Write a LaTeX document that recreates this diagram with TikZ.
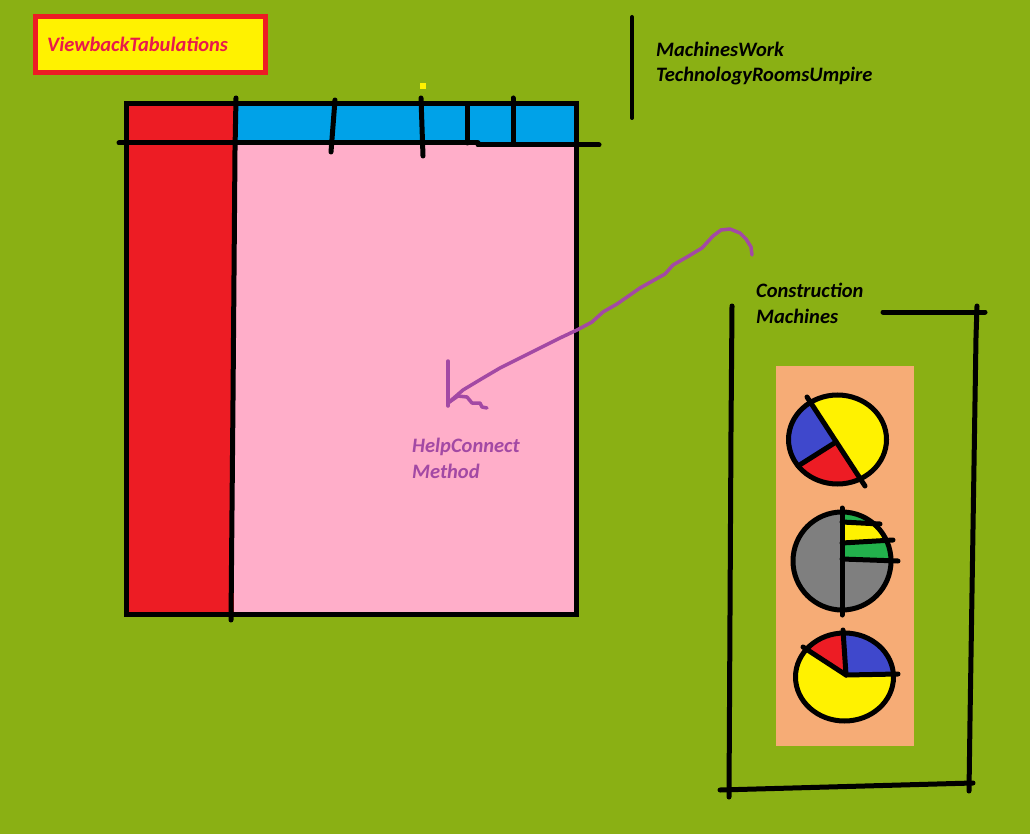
\documentclass[tikz,border=0pt]{standalone}
\usepackage{fontspec}
\setmainfont{Carlito}
\definecolor{bg}{RGB}{138,176,20}
\definecolor{pred}{RGB}{237,28,36}
\definecolor{pyellow}{RGB}{255,242,0}
\definecolor{pblue}{RGB}{0,162,232}
\definecolor{ppink}{RGB}{255,174,201}
\definecolor{pindigo}{RGB}{63,72,204}
\definecolor{pgreen}{RGB}{34,177,76}
\definecolor{pgray}{RGB}{127,127,127}
\definecolor{porange}{RGB}{246,172,118}
\definecolor{ppurple}{RGB}{163,73,164}
\definecolor{titletxt}{RGB}{232,26,75}
\begin{document}
\begin{tikzpicture}[x=1pt,y=-1pt]
\tikzset{
  blk/.style={line width=5pt, black, line cap=round, line join=round},
  thinblk/.style={line width=4pt, black, line cap=round},
  lbl/.style={font=\fontsize{20.5}{24}\selectfont\bfseries\itshape, inner sep=0pt, anchor=base west},
  pline/.style={line width=3.5pt, ppurple, line cap=round, line join=round},
}
\fill[bg] (0,0) rectangle (1030,834);
\useasboundingbox (0,0) rectangle (1030,834);

% title box
\node[draw=pred, line width=5pt, fill=pyellow, inner sep=0pt, outer sep=0pt, anchor=north west,
      minimum width=230pt, minimum height=56pt] (title) at (35.5,16.5) {};
\node[lbl, text=titletxt] (titletext) at (47,52) {ViewbackTabulations};

% main table
\fill[pred] (126,104) rectangle (234,614);
\fill[pblue] (234,104) rectangle (576,143);
\fill[ppink] (234,143) rectangle (576,614);
\draw[line width=5pt, line join=miter] (126,104) rectangle (576,614);
\node[inner sep=0pt, minimum size=0pt] (table) at (351,359) {};
\draw[blk] (236,98) -- (235,150) -- (233,400) -- (231,620);
\draw[blk] (119,143) -- (478,143);
\draw[blk] (478,145) -- (599,145);
\draw[blk] (335,100) -- (331,152);
\draw[blk] (421,98) -- (423,156);
\draw[blk] (467,106) -- (467,143);
\draw[blk] (513,98) -- (513,143);
\fill[pyellow] (420,83) rectangle (426,89);

% MachinesWork
\draw[thinblk] (632,17) -- (632,118);
\node[lbl] (mw1) at (656,57) {MachinesWork};
\node[lbl] (mw2) at (656,82) {TechnologyRoomsUmpire};

% Construction machines frame
\node[lbl] (cm1) at (756,298) {Construction};
\node[lbl] (cm2) at (756,323) {Machines};
\draw[blk] (732,306) -- (731,430) -- (729,797);
\draw[blk] (883,312) -- (985,312);
\draw[blk] (977,306) -- (976,337) -- (970,720) -- (969,791);
\draw[blk] (720,790) -- (973,783);
\fill[porange] (776,366) rectangle (914,746);

% pie 1
\begin{scope}
  \clip (837.5,439.5) ellipse [x radius=49, y radius=44.5];
  \fill[pyellow] (780,385) rectangle (895,495);
  \fill[pindigo] (836,442) -- (749,307) -- (700,307) -- (700,520) -- (722,514) -- cycle;
  \fill[pred] (836,442) -- (722,514) -- (722,620) -- (923,620) -- (923,574) -- cycle;
\end{scope}
\draw[line width=5pt] (837.5,439.5) ellipse [x radius=49, y radius=44.5];
\draw[blk] (807,397) -- (865,486);
\draw[blk] (836,442) -- (798,466);

% pie 2
\begin{scope}
  \clip (842,561) circle [radius=49];
  \fill[pgray] (790,505) rectangle (895,615);
  \fill[pgreen] (842,505) -- (900,505) -- (900,525) -- (842,522) -- cycle;
  \fill[pyellow] (842,522) -- (900,525) -- (900,539) -- (842,543) -- cycle;
  \fill[pgreen] (842,543) -- (900,539) -- (900,561) -- (842,559) -- cycle;
\end{scope}
\draw[line width=5pt] (842,561) circle [radius=49];
\draw[blk] (842,508) -- (842,615);
\draw[blk] (842,522) -- (880,524);
\draw[blk] (842,543) -- (893,540);
\draw[blk] (842,559) -- (898,561);

% pie 3
\begin{scope}
  \clip (844.5,677) ellipse [x radius=49, y radius=44];
  \fill[pyellow] (790,625) rectangle (900,725);
  \fill[pindigo] (846,675) -- (842.3,600) -- (910,600) -- (910,674) -- cycle;
  \fill[pred] (846,675) -- (760,619) -- (760,600) -- (842.3,600) -- cycle;
\end{scope}
\draw[line width=5pt] (844.5,677) ellipse [x radius=49, y radius=44];
\draw[blk] (846,675) -- (843,630);
\draw[blk] (846,675) -- (898,674);
\draw[blk] (846,675) -- (803,647);

% purple connector
\node[lbl, text=ppurple] (hc1) at (412,452) {HelpConnect};
\node[lbl, text=ppurple] (hc2) at (412,478) {Method};
\coordinate (cstart) at (752,255);
\coordinate (ctip) at (448,403);
\draw[pline] (cstart) -- (751,247) -- (746,239) -- (740,233) -- (730,229) -- (721,230) -- (713,236)
  -- (702,248) -- (687,257) -- (673,265) -- (665,274) -- (640,288) -- (617,304) -- (603,312)
  -- (592,322) -- (577,330) -- (560,338) -- (540,348) -- (520,358) -- (500,368) -- (483,378)
  -- (463,390) -- (ctip);
\draw[pline] (448,361) -- (448,406);
\draw[pline] (ctip) -- (458,396) -- (467,397) -- (472,403) -- (480,403) -- (482,407) -- (487,408);
\end{tikzpicture}
\end{document}
